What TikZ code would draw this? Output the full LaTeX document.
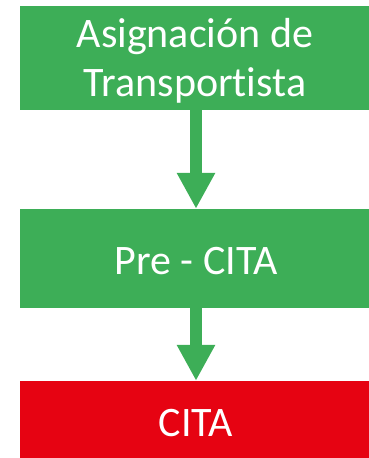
\documentclass[tikz,border=0pt]{standalone}
\usepackage{fontspec}
\setmainfont[Ligatures={NoCommon}]{Carlito}
\usetikzlibrary{arrows.meta}
\definecolor{boxgreen}{RGB}{61,174,87}
\definecolor{boxred}{RGB}{230,3,18}
\tikzset{
  stepbox/.style={fill=boxgreen, minimum width=352pt, inner sep=0pt},
  redbox/.style={stepbox, fill=boxred},
  steptext/.style={text=white, inner sep=0pt, align=center, anchor=base, font=\fontsize{42pt}{49pt}\selectfont},
  flowarrow/.style={draw=boxgreen, line width=12pt, -{Triangle[width=36pt,length=36pt]}, shorten >=0pt}
}
\begin{document}
\begin{tikzpicture}[x=1pt,y=1pt]
  \path[use as bounding box] (0,0) rectangle (369,-458);
  \clip (0,0) rectangle (369,-458);
  \node[stepbox, minimum height=104pt] (a) at (196,-58) {};
  \node[stepbox, minimum height=99pt] (b) at (196,-258.5) {};
  \node[redbox, minimum height=84pt] (c) at (196,-423) {};
  \node[steptext] (at) at (195,-96.7) {Asignación de\\Transportista};
  \node[steptext] (bt) at (196,-274.3) {Pre - CITA};
  \node[steptext] (ct) at (196,-436) {CITA};
  \draw[flowarrow] (a.south) -- (b.north);
  \draw[flowarrow] (b.south) -- (c.north);
\end{tikzpicture}
\end{document}
